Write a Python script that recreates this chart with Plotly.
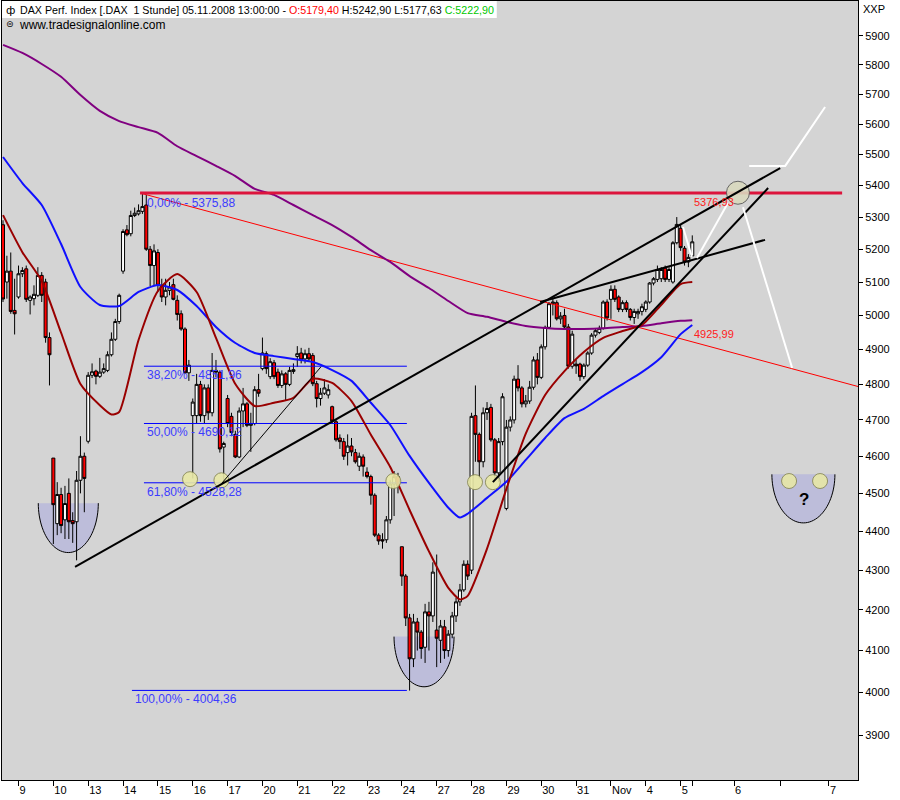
import math
import plotly.graph_objects as go

# ---------------- candle data (hourly bars, Oct 8 2008 - Nov 5 2008) ----------------
open_ = [
    # Oct 8 (last 4 bars)
    5276, 5100, 5133, 5015,
    # Oct 9
    5055, 5125, 5140, 5045, 5050, 5060, 5120, 5100, 4935,
    # Oct 10
    4595, 4420, 4497, 4430, 4500, 4428, 4425, 4535, 4600,
    # Oct 13
    4641, 4826, 4838, 4823, 4835, 4840, 4885, 4930, 4982,
    # Oct 14
    5133, 5260, 5248, 5305, 5310, 5318, 5338, 5200, 5150,
    # Oct 15
    5190, 5090, 5055, 5075, 5092, 5045, 5005, 4960, 4833,
    # Oct 16
    4712, 4712, 4800, 4712, 4790, 4720, 4840, 4835, 4625,
    # Oct 17
    4760, 4710, 4660, 4598, 4725, 4745, 4685, 4690, 4785,
    # Oct 20
    4845, 4888, 4822, 4862, 4835, 4797, 4830, 4800, 4837,
    # Oct 21
    4880, 4890, 4873, 4888, 4883, 4802, 4760, 4775, 4770,
    # Oct 22
    4737, 4695, 4650, 4640, 4610, 4628, 4610, 4573, 4598,
    # Oct 23
    4557, 4545, 4495, 4390, 4378, 4378, 4430, 4525, 4545,
    # Oct 24
    4360, 4285, 4180, 4080, 4170, 4145, 4108, 4195, 4185,
    # Oct 27
    4150, 4125, 4158, 4100, 4140, 4185, 4220, 4250, 4315,
    # Oct 28
    4300, 4712, 4660, 4585, 4720, 4735, 4645, 4555, 4640,
    # Oct 29
    4460, 4680, 4700, 4815, 4790, 4745, 4753, 4792, 4870,
    # Oct 30
    4820, 4908, 4965, 5035, 5038, 4990, 5000, 4966, 4852,
    # Oct 31
    4858, 4858, 4822, 4855, 4890, 4942, 4950, 4962, 5040,
    # Nov 3
    5048, 5078, 5055, 5018, 5038, 5018, 4994, 5005, 5012,
    # Nov 4
    5018, 5040, 5097, 5108, 5110, 5142, 5108, 5100, 5220,
    # Nov 5
    5265, 5203, 5161, 5179.40,
]
high = [
    5290, 5180, 5190, 5110,
    5150, 5145, 5150, 5060, 5090, 5145, 5130, 5110, 4950,
    4595, 4530, 4515, 4520, 4540, 4450, 4560, 4655, 4610,
    4835, 4860, 4842, 4876, 4860, 4895, 4950, 4990, 5065,
    5262, 5275, 5320, 5330, 5340, 5376, 5370, 5210, 5215,
    5200, 5110, 5110, 5100, 5110, 5060, 5015, 4965, 4870,
    4760, 4830, 4810, 4800, 4800, 4890, 4870, 4840, 4640,
    4770, 4720, 4670, 4735, 4790, 4750, 4720, 4795, 4830,
    4935, 4895, 4875, 4870, 4845, 4840, 4835, 4850, 4860,
    4910, 4905, 4900, 4905, 4890, 4810, 4790, 4815, 4800,
    4740, 4700, 4660, 4650, 4660, 4650, 4620, 4610, 4605,
    4570, 4550, 4500, 4395, 4395, 4440, 4535, 4560, 4555,
    4360, 4290, 4190, 4190, 4180, 4150, 4215, 4220, 4320,
    4340, 4175, 4175, 4150, 4195, 4230, 4265, 4325, 4325,
    4720, 4797, 4665, 4735, 4750, 4745, 4650, 4650, 4775,
    4700, 4710, 4825, 4855, 4795, 4770, 4810, 4880, 4890,
    4915, 4970, 5040, 5052, 5045, 5010, 5020, 4975, 4955,
    4870, 4862, 4860, 4895, 4948, 4960, 4970, 5045, 5048,
    5090, 5090, 5060, 5045, 5045, 5022, 5020, 5020, 5035,
    5045, 5100, 5115, 5150, 5145, 5150, 5145, 5225, 5300,
    5275, 5210, 5185, 5242.90,
]
low = [
    5040, 5050, 5005, 4944,
    5050, 5115, 5040, 5003, 5030, 5055, 5040, 4920, 4797,
    4367, 4390, 4395, 4380, 4380, 4370, 4325, 4500, 4450,
    4635, 4818, 4800, 4818, 4830, 4835, 4880, 4925, 4975,
    5125, 5240, 5240, 5300, 5305, 5310, 5195, 5088, 5090,
    5070, 5040, 5030, 5060, 5045, 4985, 4955, 4830, 4810,
    4540, 4690, 4695, 4690, 4700, 4710, 4820, 4610, 4528,
    4680, 4655, 4595, 4595, 4680, 4680, 4612, 4685, 4765,
    4840, 4830, 4815, 4815, 4790, 4790, 4755, 4795, 4830,
    4850, 4860, 4860, 4865, 4795, 4735, 4740, 4770, 4760,
    4690, 4640, 4620, 4590, 4575, 4600, 4580, 4560, 4545,
    4540, 4470, 4385, 4365, 4355, 4370, 4420, 4440, 4500,
    4260, 4160, 4004, 4060, 4100, 4080, 4070, 4100, 4170,
    4060, 4070, 4080, 4085, 4130, 4170, 4210, 4245, 4275,
    4290, 4585, 4540, 4570, 4700, 4640, 4540, 4530, 4630,
    4455, 4668, 4690, 4780, 4735, 4735, 4745, 4785, 4800,
    4815, 4900, 4960, 5000, 4985, 4975, 4960, 4845, 4845,
    4830, 4810, 4815, 4850, 4885, 4935, 4945, 4958, 4985,
    4990, 5040, 5010, 5010, 5010, 4985, 4975, 4990, 5000,
    5010, 5035, 5090, 5100, 5100, 5100, 5100, 5095, 5215,
    5195, 5150, 5145, 5177.63,
]
close = [
    5049, 5133, 5012, 5005,
    5125, 5135, 5048, 5055, 5063, 5120, 5060, 4935, 4885,
    4470, 4497, 4415, 4473, 4425, 4420, 4535, 4600, 4540,
    4826, 4836, 4823, 4835, 4845, 4885, 4930, 4982, 5060,
    5255, 5245, 5305, 5312, 5320, 5333, 5200, 5150, 5195,
    5090, 5055, 5075, 5085, 5048, 5003, 4960, 4833, 4855,
    4750, 4800, 4712, 4790, 4720, 4840, 4835, 4620, 4635,
    4690, 4665, 4598, 4725, 4745, 4685, 4690, 4785, 4775,
    4890, 4845, 4865, 4822, 4797, 4830, 4800, 4840, 4842,
    4888, 4870, 4888, 4873, 4802, 4760, 4775, 4790, 4785,
    4697, 4645, 4640, 4600, 4628, 4612, 4585, 4600, 4573,
    4545, 4495, 4390, 4375, 4375, 4430, 4525, 4545, 4520,
    4285, 4180, 4080, 4170, 4145, 4105, 4195, 4185, 4295,
    4130, 4160, 4100, 4140, 4185, 4220, 4250, 4315, 4285,
    4710, 4660, 4585, 4720, 4732, 4645, 4555, 4640, 4765,
    4680, 4700, 4815, 4790, 4745, 4753, 4792, 4870, 4820,
    4908, 4965, 5035, 5040, 4990, 4998, 4966, 4852, 4945,
    4853, 4822, 4855, 4890, 4942, 4955, 4962, 5040, 4993,
    5078, 5048, 5018, 5038, 5018, 4994, 5012, 5012, 5026,
    5040, 5097, 5110, 5138, 5138, 5108, 5138, 5220, 5277,
    5205, 5161, 5175, 5222.90,
]
bar_x = list(range(len(close)))

# ---------------- x-axis ticks (bar index of first bar of each day) ----------------
tick_pos = [4, 13, 22, 31, 40, 49, 58, 67, 76, 85, 94, 103, 112, 121, 130, 139, 148, 157, 166, 175, 178, 188.8, 200.9, 213.3]
tick_txt = ["9", "10", "13", "14", "15", "16", "17", "20", "21", "22", "23", "24", "27", "28", "29", "30", "31",
            "Nov", "4", "5", "", "6", "", "7"]
y_ticks = list(range(3900, 6000, 100))

# ---------------- moving averages ----------------
ma_red_x = [0, 5, 10, 15, 20, 25, 28, 30, 35, 40, 45, 50, 55, 60, 65, 70, 75, 80, 85, 90, 95, 100, 105, 110,
            115, 118, 120, 125, 130, 135, 140, 145, 150, 155, 160, 165, 170, 175, 178]
ma_red_y = [5306, 5191, 5103, 4949, 4801, 4741, 4715, 4722, 4928, 5073, 5124, 5070, 4934, 4801, 4739, 4748,
            4762, 4816, 4804, 4753, 4659, 4571, 4456, 4348, 4255, 4226, 4235, 4355, 4512, 4662, 4770, 4838,
            4893, 4934, 4954, 4972, 5032, 5094, 5100]
ma_blue_x = [0, 5, 10, 15, 20, 25, 30, 35, 40, 45, 50, 55, 60, 65, 70, 75, 80, 85, 90, 95, 100, 105, 110, 115,
             118, 120, 125, 130, 135, 140, 145, 150, 155, 160, 165, 170, 175, 178]
ma_blue_y = [5492, 5408, 5338, 5216, 5085, 5031, 5028, 5070, 5091, 5076, 5028, 4966, 4919, 4890, 4881, 4873,
             4864, 4841, 4810, 4748, 4686, 4601, 4528, 4462, 4436, 4446, 4488, 4531, 4590, 4650, 4705, 4731,
             4767, 4801, 4835, 4878, 4945, 4972]
ma_purple_x = [0, 5, 10, 15, 20, 25, 30, 35, 40, 45, 50, 55, 60, 65, 70, 75, 80, 85, 90, 95, 100, 105, 110,
               115, 120, 125, 130, 135, 140, 145, 150, 155, 160, 165, 170, 175, 178]
ma_purple_y = [5869, 5841, 5803, 5759, 5697, 5644, 5610, 5590, 5571, 5527, 5495, 5463, 5430, 5389, 5370, 5338,
               5306, 5275, 5238, 5197, 5161, 5118, 5082, 5043, 5007, 4996, 4981, 4969, 4963, 4960, 4960, 4962,
               4966, 4969, 4977, 4984, 4986]

# ---------------- drawing objects (bar index, price) ----------------
fib_levels = [4851.96, 4690.12, 4528.28, 4004.36]
fib_labels = ["38,20% - 4851,96", "50,00% - 4690,12", "61,80% - 4528,28", "100,00% - 4004,36"]
fib_start = [36.4, 36.4, 36.4, 33.3]
fib_end = 104.3
fib_top = 5375.88
fib_top_label = "0,00% - 5375,88"

resist_level = 5375.88
resist_x = [35.4, 216.7]
down_line_x = [35.4, 220.8]
down_line_y = [5376, 4794]

trend_lines = [  # thick black lines: (x0, y0, x1, y1)
    (18.6, 4308, 200.7, 5456),
    (126.5, 4530, 197.6, 5392),
    (138.7, 5040, 196.8, 5229),
]
thin_line = (56.5, 4527, 82.1, 4850)
white_paths = [
    ([175.6, 177.9], [5269, 5176]),
    ([179.2, 187.2], [5173, 5344]),
    ([191.1, 203.8], [5331, 4847]),
    ([192.7, 202.0, 212.3], [5463, 5463, 5657]),
]
circle_x = [48.3, 56.4, 100.8, 121.9, 126.5, 203.0, 211.0]
circle_y = [4538, 4535, 4533, 4530, 4530, 4533, 4533]
big_circle_x = [189.8]
big_circle_y = [5376.93]
bowl_cx = [16.86, 108.73, 206.7]
bowl_rx = [7.75, 7.75, 8.14]
bowl_top = [4474, 4134, 4551]
bowl_bottom = [4345, 4013, 4422]

FONT = "Liberation Sans, Arial, sans-serif"
L = math.log10

fig = go.Figure()

# candles
fig.add_trace(go.Candlestick(
    x=bar_x, open=open_, high=high, low=low, close=close,
    increasing=dict(line=dict(color="black", width=1), fillcolor="white"),
    decreasing=dict(line=dict(color="black", width=1), fillcolor="#FF0000"),
    whiskerwidth=0, hoverinfo="skip", showlegend=False,
))

# fibonacci lines
fx, fy = [], []
for s, lv in zip(fib_start, fib_levels):
    fx += [s, fib_end, None]
    fy += [lv, lv, None]
fig.add_trace(go.Scatter(x=fx, y=fy, mode="lines", line=dict(color="#0000FF", width=1), hoverinfo="skip"))

# thin red descending line
fig.add_trace(go.Scatter(x=down_line_x, y=down_line_y, mode="lines", line=dict(color="#FF0000", width=1), hoverinfo="skip"))

# moving averages
fig.add_trace(go.Scatter(x=ma_purple_x, y=ma_purple_y, mode="lines", line=dict(color="#800080", width=2, shape="spline", smoothing=0.6), hoverinfo="skip"))
fig.add_trace(go.Scatter(x=ma_blue_x, y=ma_blue_y, mode="lines", line=dict(color="#1010FF", width=2, shape="spline", smoothing=0.6), hoverinfo="skip"))
fig.add_trace(go.Scatter(x=ma_red_x, y=ma_red_y, mode="lines", line=dict(color="#990000", width=2, shape="spline", smoothing=0.6), hoverinfo="skip"))

# resistance line
fig.add_trace(go.Scatter(x=resist_x, y=[resist_level, resist_level], mode="lines", line=dict(color="#DC143C", width=3), hoverinfo="skip"))

# circles
fig.add_trace(go.Scatter(x=circle_x, y=circle_y, mode="markers",
                         marker=dict(size=15, color="#E8E8A6", line=dict(color="#8C8C5A", width=1), opacity=0.9), hoverinfo="skip"))
fig.add_trace(go.Scatter(x=big_circle_x, y=big_circle_y, mode="markers",
                         marker=dict(size=23, color="#D9D9BE", line=dict(color="#5A5A5A", width=1), opacity=0.9), hoverinfo="skip"))

# black trend lines
tx, ty = [], []
for x0, y0, x1, y1 in trend_lines:
    tx += [x0, x1, None]
    ty += [y0, y1, None]
fig.add_trace(go.Scatter(x=tx, y=ty, mode="lines", line=dict(color="black", width=2), hoverinfo="skip"))
fig.add_trace(go.Scatter(x=[thin_line[0], thin_line[2]], y=[thin_line[1], thin_line[3]], mode="lines",
                         line=dict(color="black", width=1), hoverinfo="skip"))

# white projection lines
wx, wy = [], []
for xs, ys in white_paths:
    wx += xs + [None]
    wy += ys + [None]
fig.add_trace(go.Scatter(x=wx, y=wy, mode="lines", line=dict(color="white", width=2), hoverinfo="skip"))

# bowls (lower half-ellipses) as shapes below traces
shapes = []
for cx, rx, top, bot in zip(bowl_cx, bowl_rx, bowl_top, bowl_bottom):
    lt, lb = L(top), L(bot)
    pts = []
    for k in range(49):
        t = math.pi * k / 48
        pts.append((cx + rx * math.cos(t), 10 ** (lt - (lt - lb) * math.sin(t))))
    path = "M " + " L ".join(f"{x:.4f},{y:.3f}" for x, y in pts)
    shapes.append(dict(type="path", xref="x", yref="y", path=path + " Z", fillcolor="#BDBDDA",
                       line=dict(width=0), layer="below"))
    shapes.append(dict(type="path", xref="x", yref="y", path=path, fillcolor="rgba(0,0,0,0)",
                       line=dict(color="black", width=1), layer="below"))

# header background box
shapes.append(dict(type="rect", xref="paper", yref="paper", x0=0, x1=0.578, y0=(780 - 18) / 779, y1=1,
                   fillcolor="white", line=dict(width=0), layer="above"))

annotations = []
fib_font = dict(family=FONT, size=12, color="#3C3CFF")
annotations.append(dict(x=36.67, y=L(fib_top), xref="x", yref="y", text=fib_top_label, showarrow=False,
                        xanchor="left", yanchor="middle", yshift=-10, font=fib_font))
for i, (lv, lab) in enumerate(zip(fib_levels, fib_labels)):
    annotations.append(dict(x=fib_start[i] + 0.27, y=L(lv), xref="x", yref="y", text=lab, showarrow=False,
                            xanchor="left", yanchor="middle", yshift=-9, font=fib_font))
red_font = dict(family=FONT, size=11, color="#FF2020")
annotations.append(dict(x=177.9, y=L(5376.93), xref="x", yref="y", text="5376,93", showarrow=False,
                        xanchor="left", yanchor="middle", yshift=-9, font=red_font))
annotations.append(dict(x=177.9, y=L(4925.99), xref="x", yref="y", text="4925,99", showarrow=False,
                        xanchor="left", yanchor="middle", yshift=7, font=red_font))
annotations.append(dict(x=206.8, y=L(4483), xref="x", yref="y", text="<b>?</b>", showarrow=False,
                        xanchor="center", yanchor="middle", font=dict(family=FONT, size=17, color="black")))

header = ("DAX Perf. Index [.DAX&nbsp; 1 Stunde] 05.11.2008 13:00:00 - "
          "<span style='color:#FF0000'>O:5179,40</span> H:5242,90 L:5177,63 "
          "<span style='color:#00C800'>C:5222,90</span>")
annotations.append(dict(x=16 / 856, y=(780 - 10) / 779, xref="paper", yref="paper", text=header, showarrow=False,
                        xanchor="left", yanchor="middle", font=dict(family=FONT, size=10.7, color="black")))
annotations.append(dict(x=2 / 856, y=(780 - 10) / 779, xref="paper", yref="paper", text="ф", showarrow=False,
                        xanchor="left", yanchor="middle", font=dict(family="DejaVu Sans", size=11, color="black")))
annotations.append(dict(x=15 / 856, y=(780 - 25) / 779, xref="paper", yref="paper", text="www.tradesignalonline.com",
                        showarrow=False, xanchor="left", yanchor="middle", font=dict(family=FONT, size=12, color="black")))
annotations.append(dict(x=2 / 856, y=(780 - 24) / 779, xref="paper", yref="paper", text="⊜", showarrow=False,
                        xanchor="left", yanchor="middle", font=dict(family="DejaVu Sans", size=9, color="black")))
annotations.append(dict(x=1, y=1, xref="paper", yref="paper", text="XXP", showarrow=False, xshift=3,
                        xanchor="left", yanchor="top", font=dict(family=FONT, size=11, color="black")))

fig.update_layout(
    width=900, height=800,
    margin=dict(l=2, r=42, t=1, b=20),
    paper_bgcolor="white", plot_bgcolor="#D4D4D4",
    showlegend=False, hovermode=False,
    boxgap=0.12, boxgroupgap=0.12,
    shapes=shapes, annotations=annotations,
    font=dict(family=FONT, size=11, color="black"),
    xaxis=dict(range=[-0.26, 220.8], rangeslider=dict(visible=False), showgrid=False, zeroline=False,
               showline=True, mirror=True, linecolor="black", linewidth=1,
               tickmode="array", tickvals=tick_pos, ticktext=tick_txt,
               ticks="outside", ticklen=5, tickcolor="black", ticklabelposition="outside right",
               tickfont=dict(family=FONT, size=11, color="black")),
    yaxis=dict(type="log", range=[3.57949, 3.77985], side="right", showgrid=False, zeroline=False,
               showline=True, mirror=True, linecolor="black", linewidth=1,
               tickmode="array", tickvals=y_ticks, ticktext=[str(v) for v in y_ticks],
               ticks="outside", ticklen=4, tickcolor="black",
               tickfont=dict(family=FONT, size=11, color="black")),
)

fig.write_html(
    "out.html",
    config={"displayModeBar": False},
    post_script="document.body.style.margin='0';document.body.style.padding='0';document.body.style.overflow='hidden';",
)
